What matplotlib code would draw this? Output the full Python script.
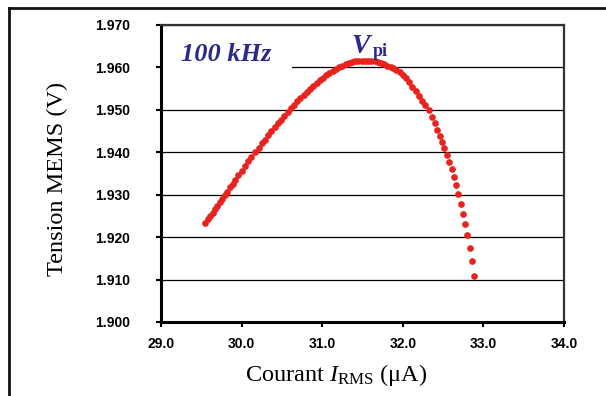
import matplotlib
matplotlib.use("Agg")
import matplotlib.pyplot as plt
from matplotlib.lines import Line2D
from matplotlib.patches import Rectangle

plt.rcParams.update({"mathtext.fontset": "custom", "mathtext.rm": "Liberation Serif",
                     "mathtext.it": "Liberation Serif:italic", "mathtext.bf": "Liberation Serif:bold"})

# courant RMS (uA) et tension MEMS (V)
i_rms = [29.55, 29.58, 29.61, 29.64, 29.67, 29.70, 29.73, 29.76, 29.79, 29.82,
         29.86, 29.89, 29.92, 29.96, 30.00, 30.04, 30.08, 30.12, 30.17, 30.21,
         30.25, 30.29, 30.33, 30.37, 30.41, 30.45, 30.49, 30.53, 30.57, 30.61,
         30.65, 30.69, 30.73, 30.77, 30.81, 30.85, 30.89, 30.93, 30.97, 31.01,
         31.05, 31.09, 31.13, 31.17, 31.21, 31.25, 31.29, 31.33, 31.37, 31.41,
         31.45, 31.49, 31.53, 31.57, 31.61, 31.65, 31.69, 31.73, 31.77, 31.81,
         31.85, 31.88, 31.92, 31.96, 32.00, 32.04, 32.08, 32.12, 32.16, 32.20,
         32.24, 32.28, 32.32, 32.36, 32.40, 32.43, 32.46, 32.49, 32.51, 32.55,
         32.57, 32.61, 32.64, 32.66, 32.68, 32.72, 32.75, 32.77, 32.80, 32.83,
         32.86, 32.88]
v_mems = [1.9234, 1.9242, 1.9250, 1.9258, 1.9266, 1.9274, 1.9283, 1.9291, 1.9299, 1.9307,
          1.9318, 1.9326, 1.9335, 1.9346, 1.9357, 1.9368, 1.9379, 1.9389, 1.9401, 1.9411,
          1.9421, 1.9430, 1.9440, 1.9449, 1.9459, 1.9468, 1.9477, 1.9486, 1.9496, 1.9504,
          1.9512, 1.9520, 1.9528, 1.9536, 1.9543, 1.9550, 1.9557, 1.9564, 1.9570, 1.9576,
          1.9582, 1.9587, 1.9592, 1.9597, 1.9601, 1.9604, 1.9607, 1.9610, 1.9612, 1.9614,
          1.9615, 1.9616, 1.9616, 1.9616, 1.9615, 1.9614, 1.9612, 1.9610, 1.9607, 1.9604,
          1.9601, 1.9598, 1.9594, 1.9589, 1.9582, 1.9574, 1.9565, 1.9555, 1.9545, 1.9533,
          1.9522, 1.9511, 1.9500, 1.9484, 1.9469, 1.9453, 1.9438, 1.9424, 1.9410, 1.9394,
          1.9377, 1.9361, 1.9342, 1.9323, 1.9302, 1.9278, 1.9255, 1.9231, 1.9205, 1.9174,
          1.9144, 1.9108]

xticks = [29.0, 30.0, 31.0, 32.0, 33.0, 34.0]
yticks = [1.900, 1.910, 1.920, 1.930, 1.940, 1.950, 1.960, 1.970]
BLEU = "#2B2A8A"

fig = plt.figure(figsize=(6.06, 3.96), dpi=100)
ax = fig.add_axes([0.2657, 0.1869, 0.665, 0.75])
ax.set_xlim(29, 34); ax.set_ylim(1.900, 1.970)
ax.set_xticks(xticks); ax.set_xticklabels([f"{t:.1f}" for t in xticks])
ax.set_yticks(yticks); ax.set_yticklabels([f"{t:.3f}" for t in yticks])
for lab in ax.get_xticklabels() + ax.get_yticklabels():
    lab.set_fontfamily("Liberation Sans"); lab.set_fontweight("bold"); lab.set_fontsize(10)
ax.tick_params(direction="out", length=3.6, width=1.5, color="black")
ax.tick_params(axis="y", pad=19)
ax.tick_params(axis="x", pad=7)
ax.yaxis.grid(True, color="black", lw=0.9); ax.set_axisbelow(True)
for s in ["left", "bottom"]:
    ax.spines[s].set_linewidth(2.2); ax.spines[s].set_color("black")
for s in ["top", "right"]:
    ax.spines[s].set_linewidth(1.6); ax.spines[s].set_color("#333333")

ax.add_patch(Rectangle((29.0, 1.9575), 1.63, 0.012, facecolor="white", edgecolor="none", zorder=1))
ax.plot(i_rms, v_mems, ls="none", marker="o", ms=3.8, color="#E8231E", mec="#E8231E", zorder=3)

ax.text(29.25, 1.9615, "100 kHz", fontfamily="Liberation Serif", fontsize=19, fontweight="bold",
        fontstyle="italic", color=BLEU, va="baseline", ha="left", zorder=4)
ax.text(31.36, 1.9634, "V", fontfamily="Liberation Serif", fontsize=20, fontweight="bold",
        fontstyle="italic", color=BLEU, va="baseline", ha="left", zorder=4)
ax.text(31.63, 1.9627, "pi", fontfamily="Liberation Serif", fontsize=13, fontweight="bold",
        color=BLEU, va="baseline", ha="left", zorder=4)

ax.set_ylabel("Tension MEMS (V)", fontfamily="Liberation Serif", fontsize=17.5)
ax.yaxis.set_label_coords(-0.231, 0.483)
ax.set_xlabel(r"Courant $I_{\mathrm{RMS}}$ (μA)", fontfamily="Liberation Serif", fontsize=17.5)
ax.xaxis.set_label_coords(0.434, -0.135)

# cadre exterieur
fig.add_artist(Line2D([9/606, 1.0], [1 - 8/396, 1 - 8/396], transform=fig.transFigure, color="#111111", lw=2))
fig.add_artist(Line2D([9/606, 9/606], [0, 1 - 8/396], transform=fig.transFigure, color="#111111", lw=2))

fig.savefig("out.png", dpi=100, facecolor="white")
